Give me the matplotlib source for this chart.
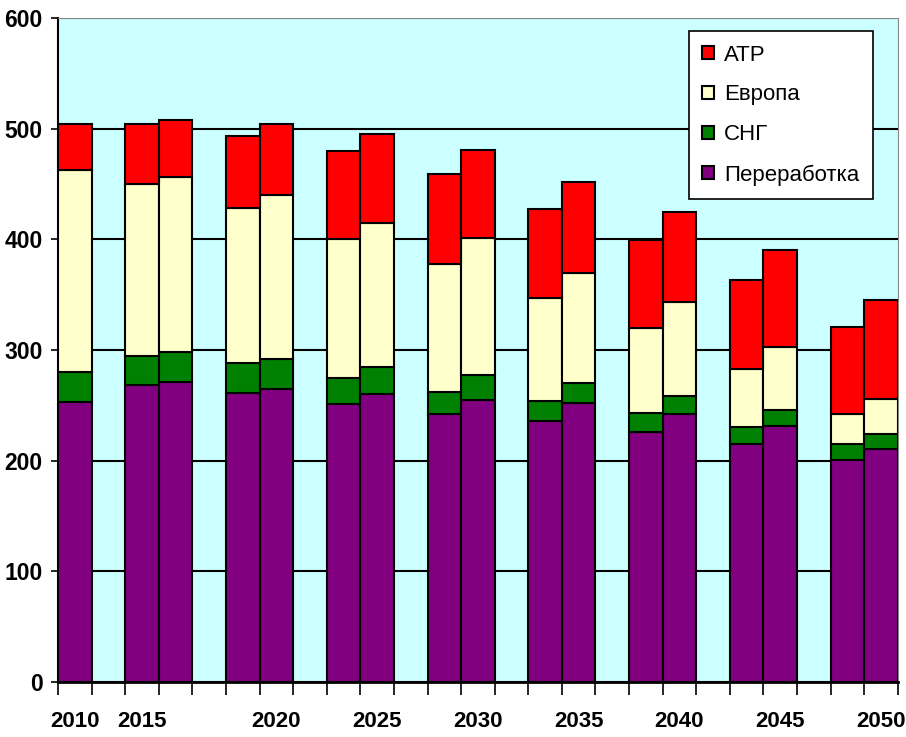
import numpy as np
import matplotlib
matplotlib.use("Agg")
import matplotlib.pyplot as plt

plt.rcParams.update({
    "font.family": ["Liberation Sans Narrow", "Liberation Sans", "DejaVu Sans"],
    "font.size": 16,
})

# 25 category slots, empty label / NaN values = gap column
slot_labels = ["2010", "", "2015", "", "", "", "2020", "", "", "2025", "", "",
               "2030", "", "", "2035", "", "", "2040", "", "", "2045", "", "", "2050"]
N = np.nan
pererabotka = [253, N, 268, 271, N, 261, 265, N, 251, 260, N, 242, 255, N, 236, 252, N,
               226, 242, N, 215, 231, N, 201, 211]
sng         = [27, N, 27, 27, N, 27, 27, N, 24, 25, N, 20, 22, N, 18, 18, N,
               17, 16, N, 15, 15, N, 14, 13]
evropa      = [183, N, 155, 158, N, 140, 148, N, 125, 130, N, 116, 124, N, 93, 100, N,
               77, 85, N, 53, 57, N, 27, 32]
atr         = [41, N, 54, 52, N, 65, 64, N, 80, 80, N, 81, 80, N, 80, 82, N,
               79, 82, N, 80, 87, N, 79, 89]

series = [("Переработка", pererabotka, "#800080"),
          ("СНГ", sng, "#008000"),
          ("Европа", evropa, "#FFFFCC"),
          ("АТР", atr, "#FF0000")]

x = np.arange(len(slot_labels))
fig = plt.figure(figsize=(9.06, 7.37), dpi=100)
ax = fig.add_axes([0.064, 0.0746, 0.927, 0.901])
ax.set_facecolor("#CCFFFF")

bottom = np.zeros(len(x))
handles = []
for name, vals, col in series:
    v = np.array(vals, dtype=float)
    b = ax.bar(x, v, width=1.0, bottom=bottom, color=col, edgecolor="black",
               linewidth=1.5, label=name, zorder=3)
    handles.append(b)
    bottom = bottom + np.nan_to_num(v)

ax.set_xlim(-0.5, len(x) - 0.5)
ax.set_ylim(0, 600)
ax.set_yticks(np.arange(0, 601, 100))
ax.yaxis.grid(True, color="black", linewidth=1.5, zorder=1)
ax.set_axisbelow(True)

# tick marks at slot boundaries, labels at slot centres
ax.set_xticks(np.arange(-0.5, len(x) + 0.5, 1.0))
ax.set_xticklabels([])
ax.set_xticks(x, minor=True)
ax.set_xticklabels(slot_labels, minor=True, fontweight="bold", fontsize=16)
ax.tick_params(axis="x", which="major", length=9, width=1.2, direction="out")
ax.tick_params(axis="x", which="minor", length=0, pad=21)
ax.tick_params(axis="y", length=5, width=1.2, pad=6)
for lbl in ax.get_yticklabels():
    lbl.set_fontweight("bold")
    lbl.set_fontsize(16.5)

ax.spines["left"].set_linewidth(1.5)
ax.spines["bottom"].set_linewidth(2)
ax.spines["top"].set_color("#888888")
ax.spines["right"].set_color("#888888")

leg = ax.legend(handles=handles[::-1], labels=[s[0] for s in series][::-1],
                loc="upper right", bbox_to_anchor=(0.970, 0.980), fontsize=16,
                frameon=True, fancybox=False, edgecolor="black", framealpha=1,
                handlelength=0.55, handleheight=0.55, handletextpad=0.45,
                labelspacing=0.85, borderpad=0.6, borderaxespad=0)
leg.get_frame().set_linewidth(1.2)
leg.set_zorder(5)

fig.savefig("out.png", dpi=100)
